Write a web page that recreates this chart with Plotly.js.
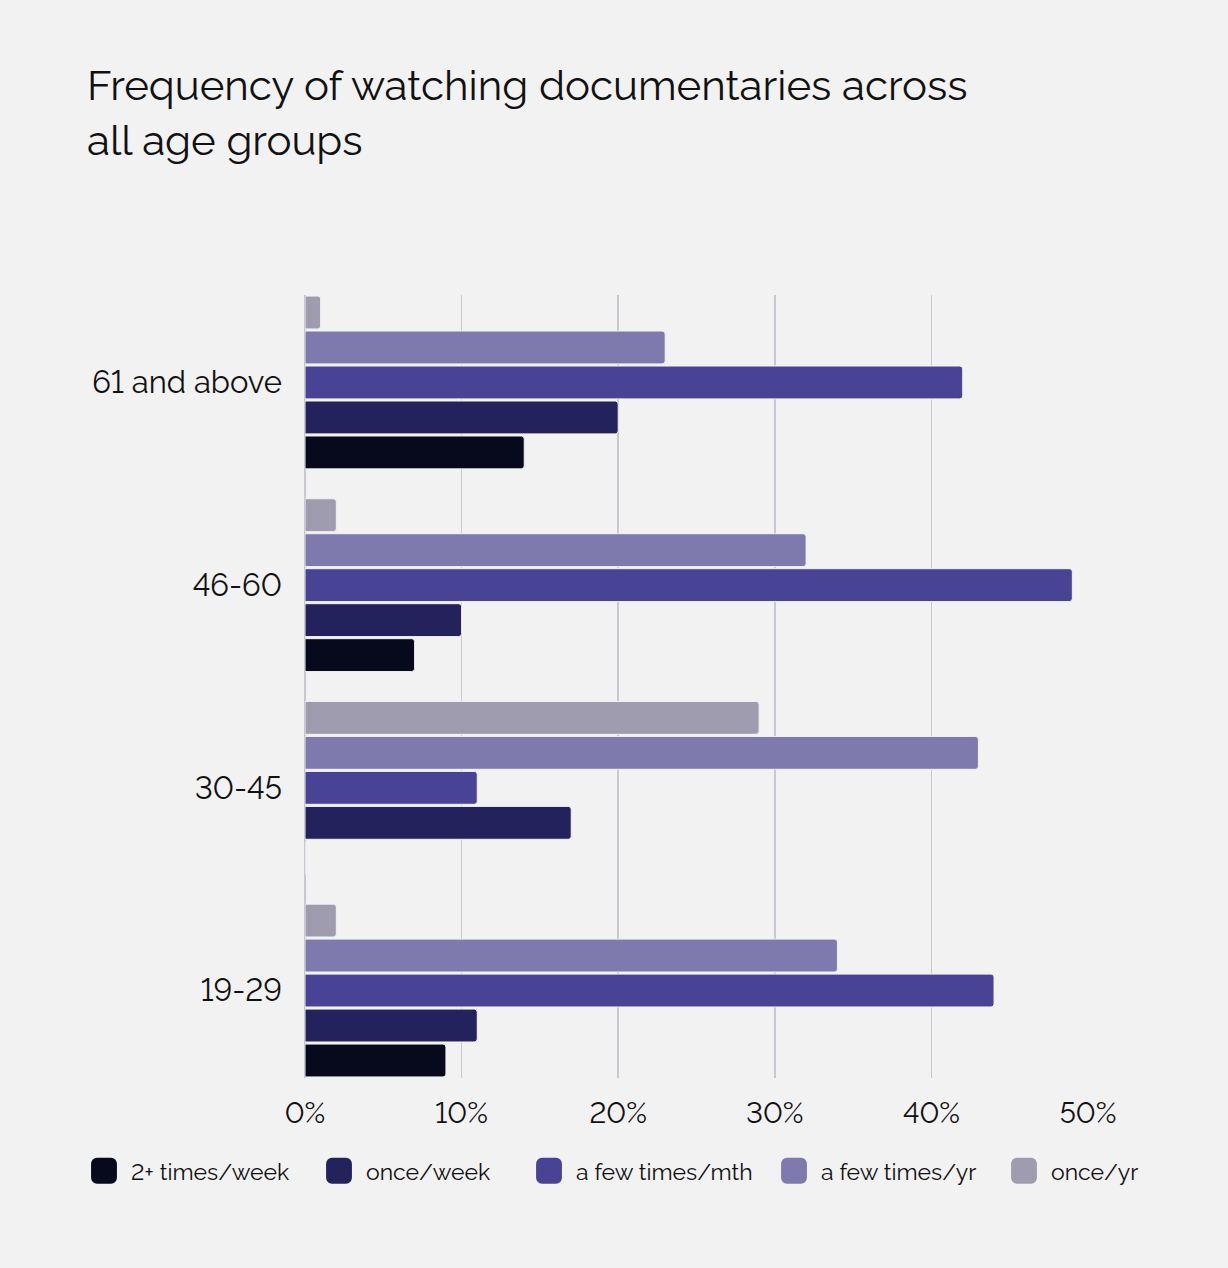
<!DOCTYPE html>
<html>
<head>
<meta charset="utf-8">
<script src="https://cdn.plot.ly/plotly-3.0.1.min.js"></script>
<style>
  html, body { margin: 0; padding: 0; background: #f2f2f2; }
  #chart { width: 1228px; height: 1268px; }
  #chart text { font-variant-numeric: lining-nums; font-feature-settings: "lnum" 1; }
</style>
</head>
<body>
<div id="chart"></div>
<script>
// age groups, bottom to top
const ageGroups = ['19-29', '30-45', '46-60', '61 and above'];

const seriesNames = ['2+ times/week', 'once/week', 'a few times/mth', 'a few times/yr', 'once/yr'];
const seriesColors = ['#070a1c', '#24225c', '#484394', '#7e7aad', '#a09cb0'];
const legendWidths = [176, 151, 186, 171, undefined];

// share of each group, per frequency
const twicePlusWeek = [0.09, 0, 0.07, 0.14];
const onceWeek      = [0.11, 0.17, 0.10, 0.20];
const fewPerMonth   = [0.44, 0.11, 0.49, 0.42];
const fewPerYear    = [0.34, 0.43, 0.32, 0.23];
const oncePerYear   = [0.02, 0.29, 0.02, 0.01];

const seriesValues = [twicePlusWeek, onceWeek, fewPerMonth, fewPerYear, oncePerYear];

const xTickVals = [0, 0.1, 0.2, 0.3, 0.4, 0.5];
const xTickText = ['0%', '10%', '20%', '30%', '40%', '50%'];

const fontFam = 'Raleway, Lato, "Open Sans", sans-serif';
const barGap = 0.137;

var traces = seriesValues.map(function (vals, i) {
    var tr = {
        type: 'bar',
        orientation: 'h',
        name: seriesNames[i],
        y: ageGroups,
        x: vals,
        marker: {
            color: seriesColors[i],
            cornerradius: 3,
            line: { color: '#f2f2f2', width: 1 }
        },
        hoverinfo: 'x+y+name'
    };
    if (legendWidths[i]) tr.legendwidth = legendWidths[i];
    return tr;
});

var layout = {
    width: 1228,
    height: 1268,
    paper_bgcolor: '#f2f2f2',
    plot_bgcolor: '#f2f2f2',
    font: { family: fontFam, color: '#111111' },
    barmode: 'group',
    bargap: barGap,
    bargroupgap: 0.06,
    margin: { l: 305, r: 140, t: 295, b: 190 },
    title: {
        text: 'Frequency of watching documentaries across<br>all age groups',
        font: { size: 42, family: fontFam, color: '#111111' },
        x: 87 / 1228,
        xref: 'container',
        xanchor: 'left',
        y: 1 - 100 / 1268,
        yref: 'container',
        yanchor: 'top'
    },
    xaxis: {
        range: [0, 0.5],
        tickvals: xTickVals,
        ticktext: xTickText,
        showgrid: true,
        gridcolor: '#c9c7d2',
        gridwidth: 1.5,
        zeroline: true,
        zerolinecolor: '#c9c7d2',
        zerolinewidth: 1.5,
        showline: false,
        ticks: '',
        ticklen: 0,
        ticklabelstandoff: 15,
        tickfont: { size: 29, color: '#111111' },
        fixedrange: true
    },
    yaxis: {
        type: 'category',
        range: [-(1 - barGap) / 2, 3 + (1 - barGap) / 2],
        showgrid: false,
        zeroline: false,
        ticks: '',
        ticklabelstandoff: 22,
        tickfont: { size: 31, color: '#111111' },
        fixedrange: true
    },
    showlegend: true,
    legend: {
        orientation: 'h',
        x: (77 - 305) / 783,
        xanchor: 'left',
        y: -0.091,
        yanchor: 'top',
        font: { size: 23, color: '#111111' },
        traceorder: 'normal',
        itemwidth: 44,
        bgcolor: 'rgba(0,0,0,0)'
    }
};

Plotly.newPlot('chart', traces, layout, { displayModeBar: false, staticPlot: true }).then(function (gd) {
    // bigger square swatches in the legend
    gd.querySelectorAll('.legendpoints path').forEach(function (p) {
        var t = p.getAttribute('transform') || '';
        p.setAttribute('transform', t + ' scale(2.35)');
    });
});
</script>
</body>
</html>
